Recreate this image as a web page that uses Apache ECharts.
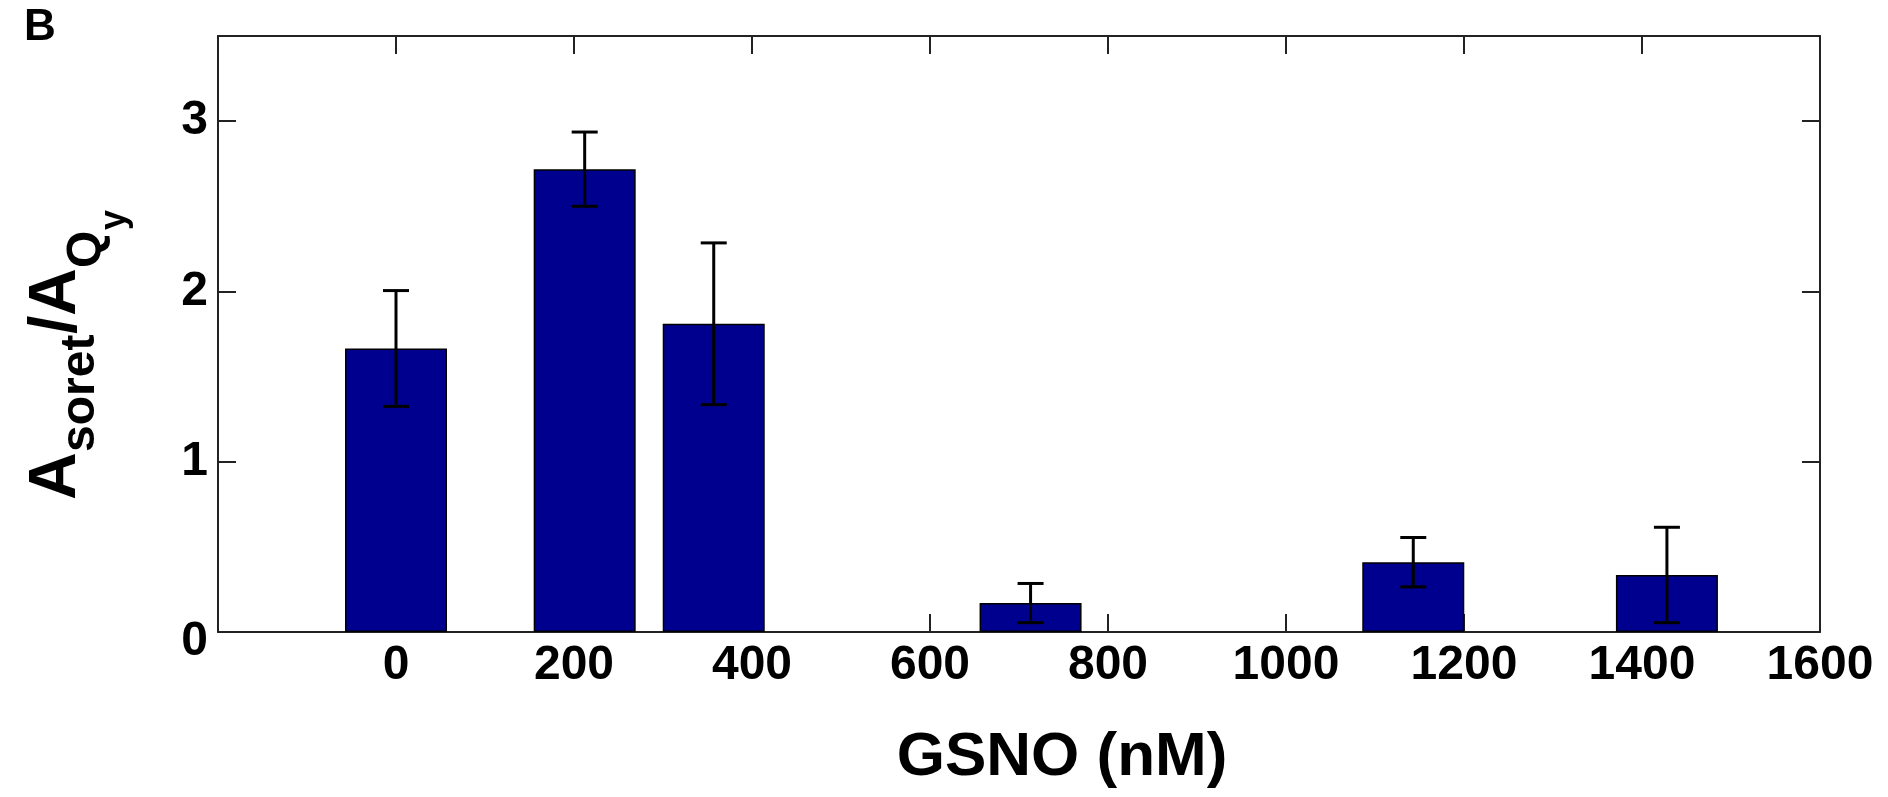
<!DOCTYPE html>
<html>
<head>
<meta charset="utf-8">
<title>GSNO</title>
<script src="https://cdn.jsdelivr.net/npm/echarts@6/dist/echarts.min.js"></script>
<style>
  html, body { margin: 0; padding: 0; background: #fff; }
  #chart { width: 1888px; height: 797px; }
</style>
</head>
<body>
<div id="chart"></div>
<script>
// GSNO 浓度 (nM)，柱子中心位置
var gsnoPos = [0, 212, 357, 713, 1143, 1428];
// A_soret / A_Qy 平均值
var ratioMean = [1.665, 2.718, 1.81, 0.17, 0.41, 0.335];
// 误差 (±)
var ratioErr = [0.34, 0.218, 0.475, 0.115, 0.145, 0.28];
// 坐标轴刻度标签
var xTickLabels = [0, 200, 400, 600, 800, 1000, 1200, 1400, 1600];
var yTickLabels = [0, 1, 2, 3];

var FONT = "'Liberation Sans', Arial, Helvetica, sans-serif";
var AXIS_COLOR = "#222";

var barData = gsnoPos.map(function (x, i) {
  return [x, ratioMean[i]];
});
var errData = gsnoPos.map(function (x, i) {
  return [x, ratioMean[i] - ratioErr[i], ratioMean[i] + ratioErr[i]];
});

var tickStyle = {
  show: true,
  inside: true,
  length: 18,
  lineStyle: { color: AXIS_COLOR, width: 2 }
};
var lineStyle = {
  show: true,
  onZero: false,
  lineStyle: { color: AXIS_COLOR, width: 2 }
};

var chart = echarts.init(document.getElementById("chart"));

var option = {
  animation: false,
  backgroundColor: "#fff",
  grid: {
    left: 218,
    right: 68,
    top: 36,
    bottom: 165
  },
  xAxis: [
    {
      type: "value",
      min: -200,
      max: 1600,
      interval: 200,
      axisLine: lineStyle,
      axisTick: tickStyle,
      splitLine: { show: false },
      axisLabel: {
        show: true,
        margin: 10,
        color: "#000",
        fontFamily: FONT,
        fontWeight: "bold",
        fontSize: 48,
        formatter: function (v) {
          return xTickLabels.indexOf(v) >= 0 ? String(v) : "";
        }
      }
    },
    {
      // 上边框
      type: "value",
      position: "top",
      min: -200,
      max: 1600,
      interval: 200,
      axisLine: lineStyle,
      axisTick: tickStyle,
      axisLabel: { show: false },
      splitLine: { show: false }
    }
  ],
  yAxis: [
    {
      type: "value",
      min: 0,
      max: 3.5,
      interval: 1,
      axisLine: lineStyle,
      axisTick: tickStyle,
      splitLine: { show: false },
      axisLabel: {
        show: true,
        margin: 10,
        color: "#000",
        fontFamily: FONT,
        fontWeight: "bold",
        fontSize: 48,
        formatter: function (v) {
          if (yTickLabels.indexOf(v) < 0) return "";
          // 0 稍微往下
          return v === 0 ? "{z|0}" : String(v);
        },
        rich: {
          z: {
            color: "#000",
            fontFamily: FONT,
            fontWeight: "bold",
            fontSize: 48,
            padding: [20, 0, 0, 0]
          }
        }
      }
    },
    {
      // 右边框
      type: "value",
      position: "right",
      min: 0,
      max: 3.5,
      interval: 1,
      axisLine: lineStyle,
      axisTick: tickStyle,
      axisLabel: { show: false },
      splitLine: { show: false }
    }
  ],
  graphic: [
    {
      type: "text",
      left: 24,
      top: 6,
      style: {
        text: "B",
        fill: "#000",
        font: "bold 44px " + FONT
      }
    },
    {
      type: "text",
      x: 1062,
      y: 758,
      style: {
        text: "GSNO (nM)",
        fill: "#000",
        font: "bold 62px " + FONT,
        textAlign: "center",
        textVerticalAlign: "middle"
      }
    },
    {
      // y 轴标题 A_soret / A_Qy，旋转 90 度
      type: "group",
      x: 57,
      y: 500,
      rotation: Math.PI / 2,
      children: [
        { type: "text", x: 0, y: 0, style: { text: "A", fill: "#000", font: "bold 66px " + FONT, textVerticalAlign: "middle" } },
        { type: "text", x: 48, y: 24, style: { text: "soret", fill: "#000", font: "bold 48px " + FONT, textVerticalAlign: "middle" } },
        { type: "text", x: 166, y: 0, style: { text: "/", fill: "#000", font: "bold 66px " + FONT, textVerticalAlign: "middle" } },
        { type: "text", x: 184, y: 0, style: { text: "A", fill: "#000", font: "bold 66px " + FONT, textVerticalAlign: "middle" } },
        { type: "text", x: 232, y: 30, style: { text: "Q", fill: "#000", font: "bold 48px " + FONT, textVerticalAlign: "middle" } },
        { type: "text", x: 270, y: 58, style: { text: "y", fill: "#000", font: "bold 36px " + FONT, textVerticalAlign: "middle" } }
      ]
    }
  ],
  series: [
    {
      type: "bar",
      data: barData,
      barWidth: 102,
      itemStyle: {
        color: "#00008F",
        borderColor: "#000",
        borderWidth: 1.5
      },
      z: 2
    },
    {
      // 误差线
      type: "custom",
      data: errData,
      z: 3,
      renderItem: function (params, api) {
        var x = api.value(0);
        var lo = api.coord([x, api.value(1)]);
        var hi = api.coord([x, api.value(2)]);
        var half = 13;
        var st = { stroke: "#000", lineWidth: 3 };
        return {
          type: "group",
          children: [
            { type: "line", shape: { x1: lo[0], y1: lo[1], x2: hi[0], y2: hi[1] }, style: st },
            { type: "line", shape: { x1: hi[0] - half, y1: hi[1], x2: hi[0] + half, y2: hi[1] }, style: st },
            { type: "line", shape: { x1: lo[0] - half, y1: lo[1], x2: lo[0] + half, y2: lo[1] }, style: st }
          ]
        };
      }
    }
  ]
};

chart.setOption(option);
</script>
</body>
</html>
